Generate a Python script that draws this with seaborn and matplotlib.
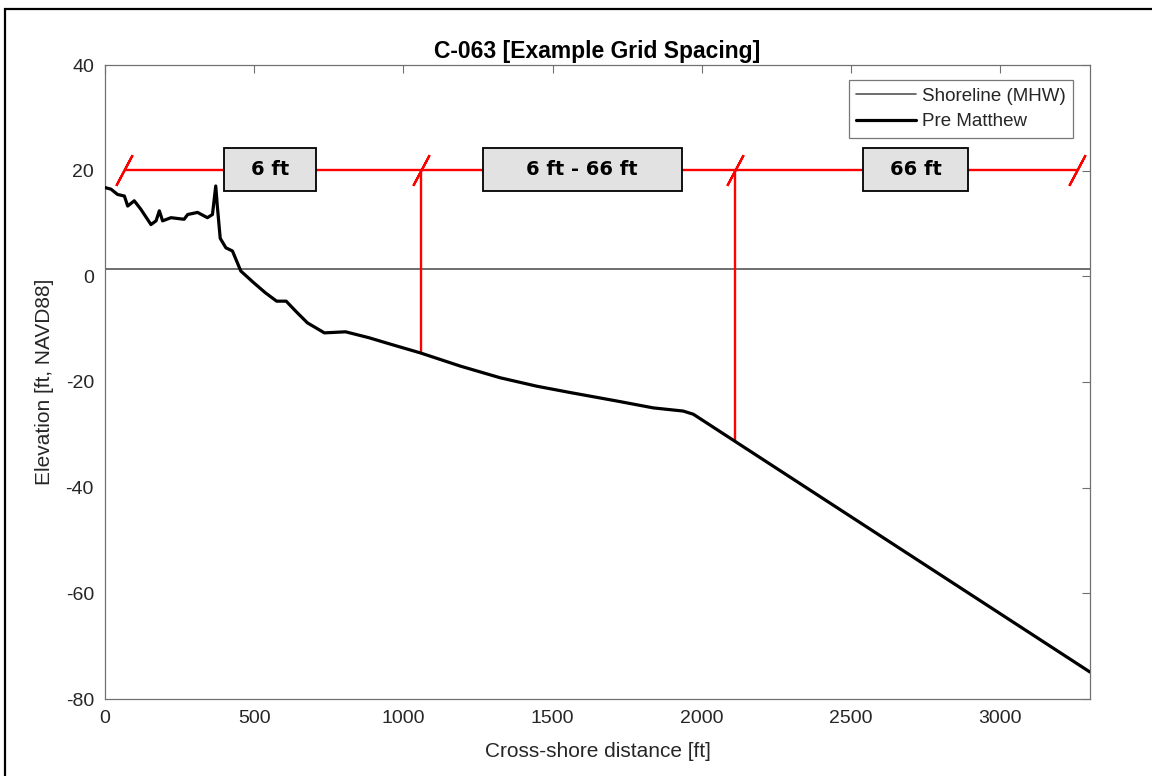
import numpy as np
import pandas as pd
import matplotlib
matplotlib.use("Agg")
import matplotlib.pyplot as plt
from matplotlib.patches import Rectangle
from matplotlib.lines import Line2D
import seaborn as sns

# ---- profile data (cross-shore distance [ft], elevation [ft NAVD88]) ----
distance_ft = [0, 20, 42, 65, 76, 98, 120, 154, 171, 182, 193, 221, 265, 277,
               310, 343, 360, 371, 376, 386, 405, 427, 455, 498, 537, 575, 607,
               639, 678, 735, 806, 883, 960, 1057, 1191, 1324, 1447, 1559,
               1715, 1837, 1937, 1971, 3300]
elevation_ft = [16.8, 16.5, 15.5, 15.2, 13.3, 14.3, 12.7, 9.8, 10.5, 12.4, 10.5,
                11.1, 10.8, 11.7, 12.1, 11.1, 11.7, 17.1, 13.5, 7.2, 5.4, 4.8,
                1.0, -1.2, -3.1, -4.7, -4.7, -6.6, -8.8, -10.7, -10.5, -11.6,
                -12.9, -14.5, -17.0, -19.2, -20.8, -22.0, -23.6, -24.9, -25.5,
                -26.1, -74.9]

shoreline_mhw = 1.3

# grid spacing zones
zone_breaks = [63, 1058, 2110, 3256]
zone_level = 20.2
zone_labels = ["6 ft", "6 ft - 66 ft", "66 ft"]
zone_box_x0 = [398, 1265, 2540]
zone_box_x1 = [706, 1932, 2891]
zone_box_y = (16.1, 24.3)

x_ticks = [0, 500, 1000, 1500, 2000, 2500, 3000]
y_ticks = [-80, -60, -40, -20, 0, 20, 40]

profile = pd.DataFrame({"x": distance_ft, "z": elevation_ft})

sns.set_style("white")
plt.rcParams["font.family"] = ["Liberation Sans", "DejaVu Sans"]
plt.rcParams["axes.unicode_minus"] = False

W, H = 1152, 776
fig = plt.figure(figsize=(W / 100, H / 100), dpi=100)
ax = fig.add_axes([105 / W, 1 - 699 / H, (1090 - 105) / W, (699 - 65) / H])

axis_grey = "#707070"
text_dark = "#262626"

# shoreline
ax.axhline(shoreline_mhw, color="#555555", lw=1.2, zorder=2)

# red zone line with break slashes
red = "#ff0000"
ax.plot([zone_breaks[0], zone_breaks[-1]], [zone_level, zone_level],
        color=red, lw=1.7, zorder=3, solid_capstyle="butt")
ax.plot(zone_breaks, [zone_level] * len(zone_breaks), ls="none",
        marker=(2, 2, -28), markersize=25, markeredgewidth=1.6,
        markeredgecolor=red, zorder=3)

# vertical markers down to the profile at interior breaks
for xb in zone_breaks[1:-1]:
    zb = np.interp(xb, distance_ft, elevation_ft)
    ax.plot([xb, xb], [zone_level, zb], color=red, lw=1.7, zorder=3)

# profile
sns.lineplot(data=profile, x="x", y="z", ax=ax, color="black", lw=2.3,
             sort=False, estimator=None, zorder=4)

# zone label boxes
for lab, x0, x1 in zip(zone_labels, zone_box_x0, zone_box_x1):
    ax.add_patch(Rectangle((x0, zone_box_y[0]), x1 - x0,
                           zone_box_y[1] - zone_box_y[0],
                           facecolor="#e2e2e2", edgecolor="black", lw=1.3,
                           zorder=5))
    ax.text((x0 + x1) / 2, (zone_box_y[0] + zone_box_y[1]) / 2, lab,
            ha="center", va="center", fontsize=14, fontweight="bold",
            family=["DejaVu Sans"], color="black", zorder=6)

ax.set_xlim(0, 3300)
ax.set_ylim(-80, 40)
ax.set_xticks(x_ticks)
ax.set_yticks(y_ticks)
ax.tick_params(direction="in", length=6, width=0.8, color=axis_grey,
               labelsize=14, labelcolor=text_dark, top=True, right=True,
               pad=8)
for s in ax.spines.values():
    s.set_visible(True)
    s.set_color(axis_grey)
    s.set_linewidth(0.9)

ax.set_xlabel("Cross-shore distance [ft]", fontsize=15, color=text_dark,
              labelpad=11)
ax.set_ylabel("Elevation [ft, NAVD88]", fontsize=15, color=text_dark,
              labelpad=8)
ax.set_title("C-063 [Example Grid Spacing]", fontsize=16.5, fontweight="bold",
             color="black", pad=5)

handles = [Line2D([], [], color="#555555", lw=1.2),
           Line2D([], [], color="black", lw=2.3)]
leg = ax.legend(handles, ["Shoreline (MHW)", "Pre Matthew"],
                loc="upper right", bbox_to_anchor=(1 - 17 / 985, 1 - 15 / 634),
                borderaxespad=0, fontsize=13.5, handlelength=3.2,
                frameon=True, fancybox=False, framealpha=1,
                edgecolor="#777777", borderpad=0.4, labelspacing=0.45,
                handletextpad=0.3)
leg.get_frame().set_linewidth(0.9)

# outer frame
fig.patches.append(Rectangle((5 / W, -0.1), 1.2, 1 - 9 / H + 0.1,
                             transform=fig.transFigure, fill=False,
                             edgecolor="black", lw=1.6))

fig.savefig("out.png", dpi=100, facecolor="white")
